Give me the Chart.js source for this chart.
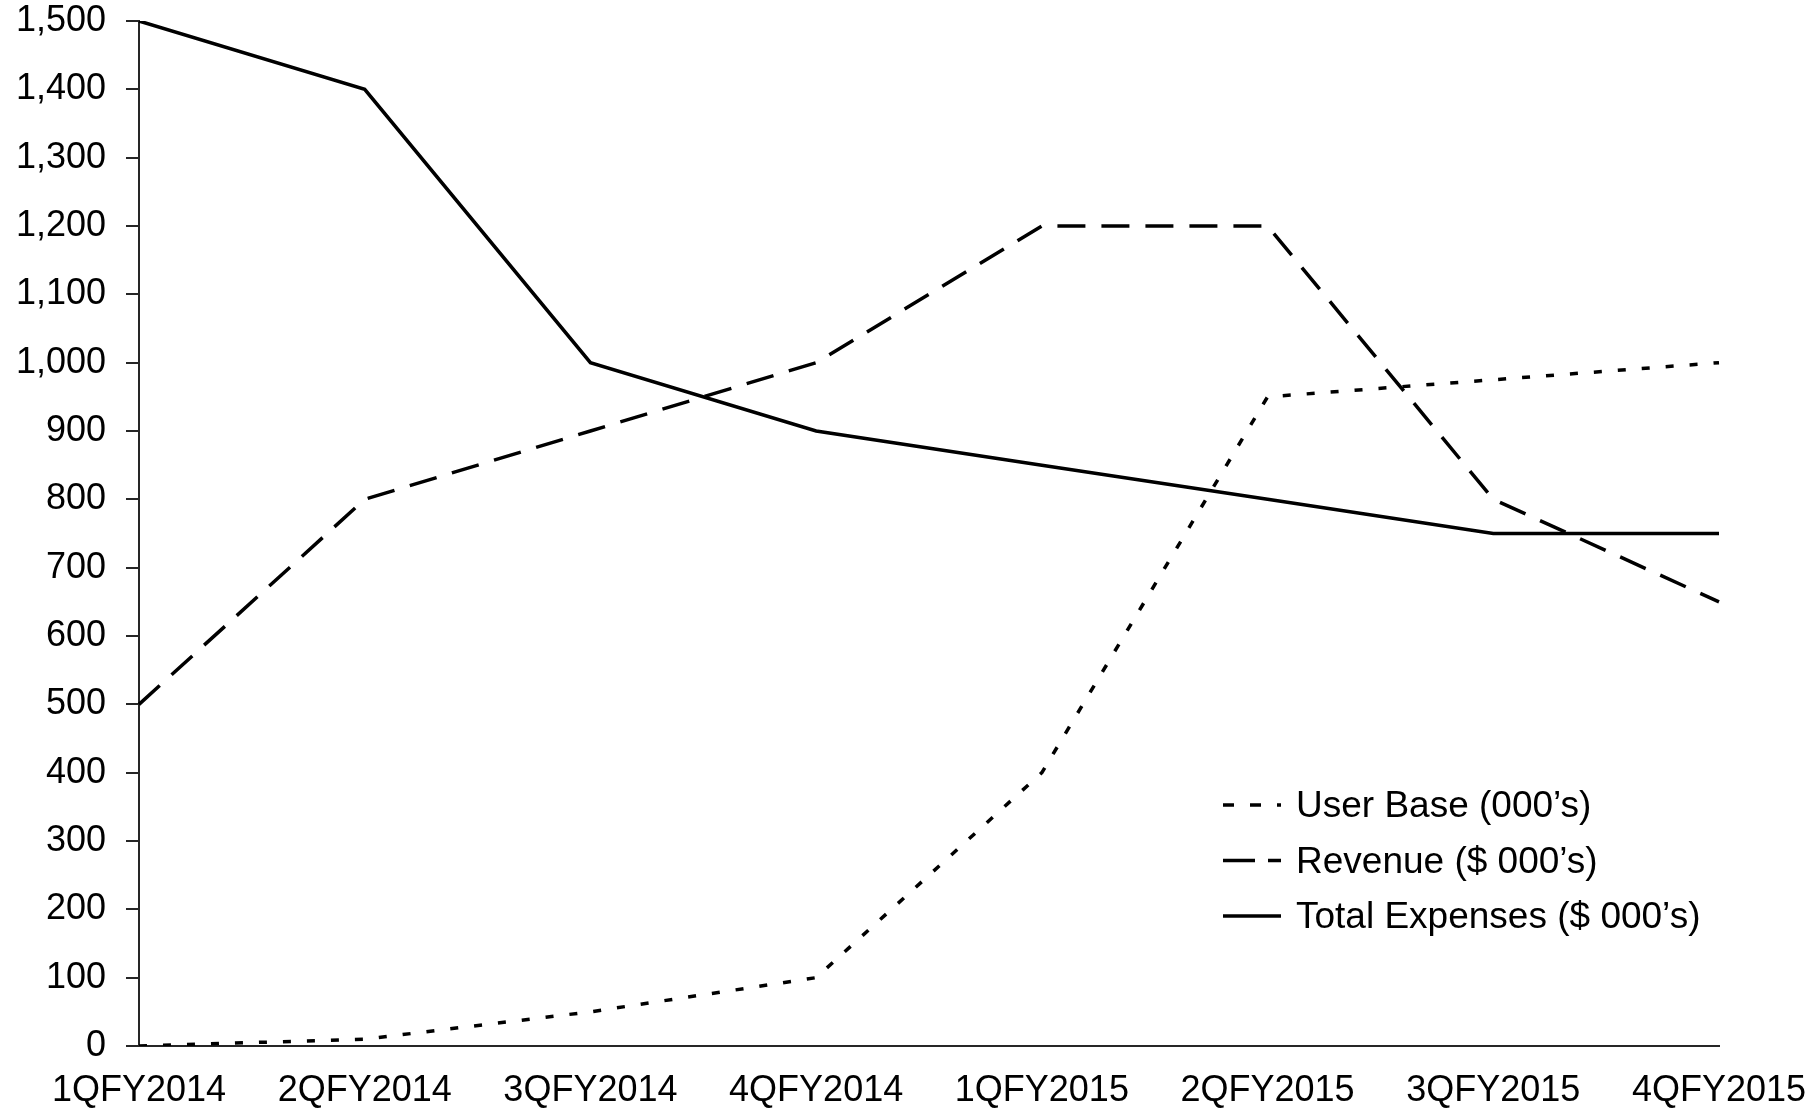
<!DOCTYPE html>
<html>
<head>
<meta charset="utf-8">
<script src="https://cdn.jsdelivr.net/npm/chart.js@4/dist/chart.umd.min.js"></script>
<style>
  body { margin: 0; background: #fff; }
  #wrap { width: 1812px; height: 1109px; }
</style>
</head>
<body>
<div id="wrap"><canvas id="myChart" width="1812" height="1109"></canvas></div>
<script>
const quarters = ["1QFY2014", "2QFY2014", "3QFY2014", "4QFY2014", "1QFY2015", "2QFY2015", "3QFY2015", "4QFY2015"];
const userBase = [0, 10, 50, 100, 400, 950, 975, 1000];
const revenue = [500, 800, 900, 1000, 1200, 1200, 800, 650];
const totalExpenses = [1500, 1400, 1000, 900, 850, 800, 750, 750];

const fontFamily = '"Liberation Sans", Arial, sans-serif';
const axisColor = "#262626";

// legend drawn inside the plot, lower right
const lineLegend = {
  id: "lineLegend",
  afterDraw(chart) {
    const ctx = chart.ctx;
    const x0 = 1223, lineW = 58, textX = 1296;
    let y = 805;
    ctx.save();
    chart.data.datasets.forEach((ds) => {
      ctx.beginPath();
      ctx.setLineDash(ds.legendDash || []);
      ctx.lineWidth = ds.borderWidth;
      ctx.strokeStyle = ds.borderColor;
      ctx.moveTo(x0, y);
      ctx.lineTo(x0 + lineW, y);
      ctx.stroke();
      ctx.setLineDash([]);
      ctx.fillStyle = "#000";
      ctx.font = "37px " + fontFamily;
      ctx.textBaseline = "middle";
      ctx.textAlign = "left";
      ctx.fillText(ds.label, textX, y + 2);
      y += 55.5;
    });
    ctx.restore();
  },
};

let chart = new Chart("myChart", {
  type: "line",
  data: {
    labels: quarters,
    datasets: [
      {
        label: "User Base (000\u2019s)",
        data: userBase,
        borderColor: "#000",
        borderWidth: 3.5,
        borderDash: [8, 16],
        legendDash: [11, 16],
        pointRadius: 0,
        tension: 0,
        fill: false,
      },
      {
        label: "Revenue ($ 000\u2019s)",
        data: revenue,
        borderColor: "#000",
        borderWidth: 3.5,
        borderDash: [28, 16],
        legendDash: [32, 13],
        pointRadius: 0,
        tension: 0,
        fill: false,
      },
      {
        label: "Total Expenses ($ 000\u2019s)",
        data: totalExpenses,
        borderColor: "#000",
        borderWidth: 3.5,
        pointRadius: 0,
        tension: 0,
        fill: false,
      },
    ],
  },
  options: {
    responsive: false,
    animation: false,
    layout: { padding: { top: 21, right: 93, left: 0, bottom: 0 } },
    plugins: {
      legend: { display: false },
      tooltip: { enabled: false },
    },
    scales: {
      x: {
        offset: false,
        grid: { display: false, drawTicks: false },
        border: { display: true, color: axisColor, width: 2 },
        ticks: {
          color: "#000",
          font: { size: 36, family: fontFamily },
          padding: 23,
          maxRotation: 0,
          autoSkip: false,
        },
        afterFit(scale) {
          scale.height = 63;
          scale.paddingLeft = 0;
          scale.paddingRight = 0;
        },
      },
      y: {
        min: 0,
        max: 1500,
        grid: { drawOnChartArea: false, drawTicks: true, tickLength: 13, color: axisColor, lineWidth: 2 },
        border: { display: true, color: axisColor, width: 2 },
        ticks: {
          stepSize: 100,
          color: "#000",
          font: { size: 36, family: fontFamily },
          padding: 20,
          callback: (v) => v.toLocaleString("en-US"),
        },
        afterFit(scale) {
          scale.width = 139;
          scale.paddingTop = 0;
          scale.paddingBottom = 0;
        },
      },
    },
  },
  plugins: [lineLegend],
});
</script>
</body>
</html>
